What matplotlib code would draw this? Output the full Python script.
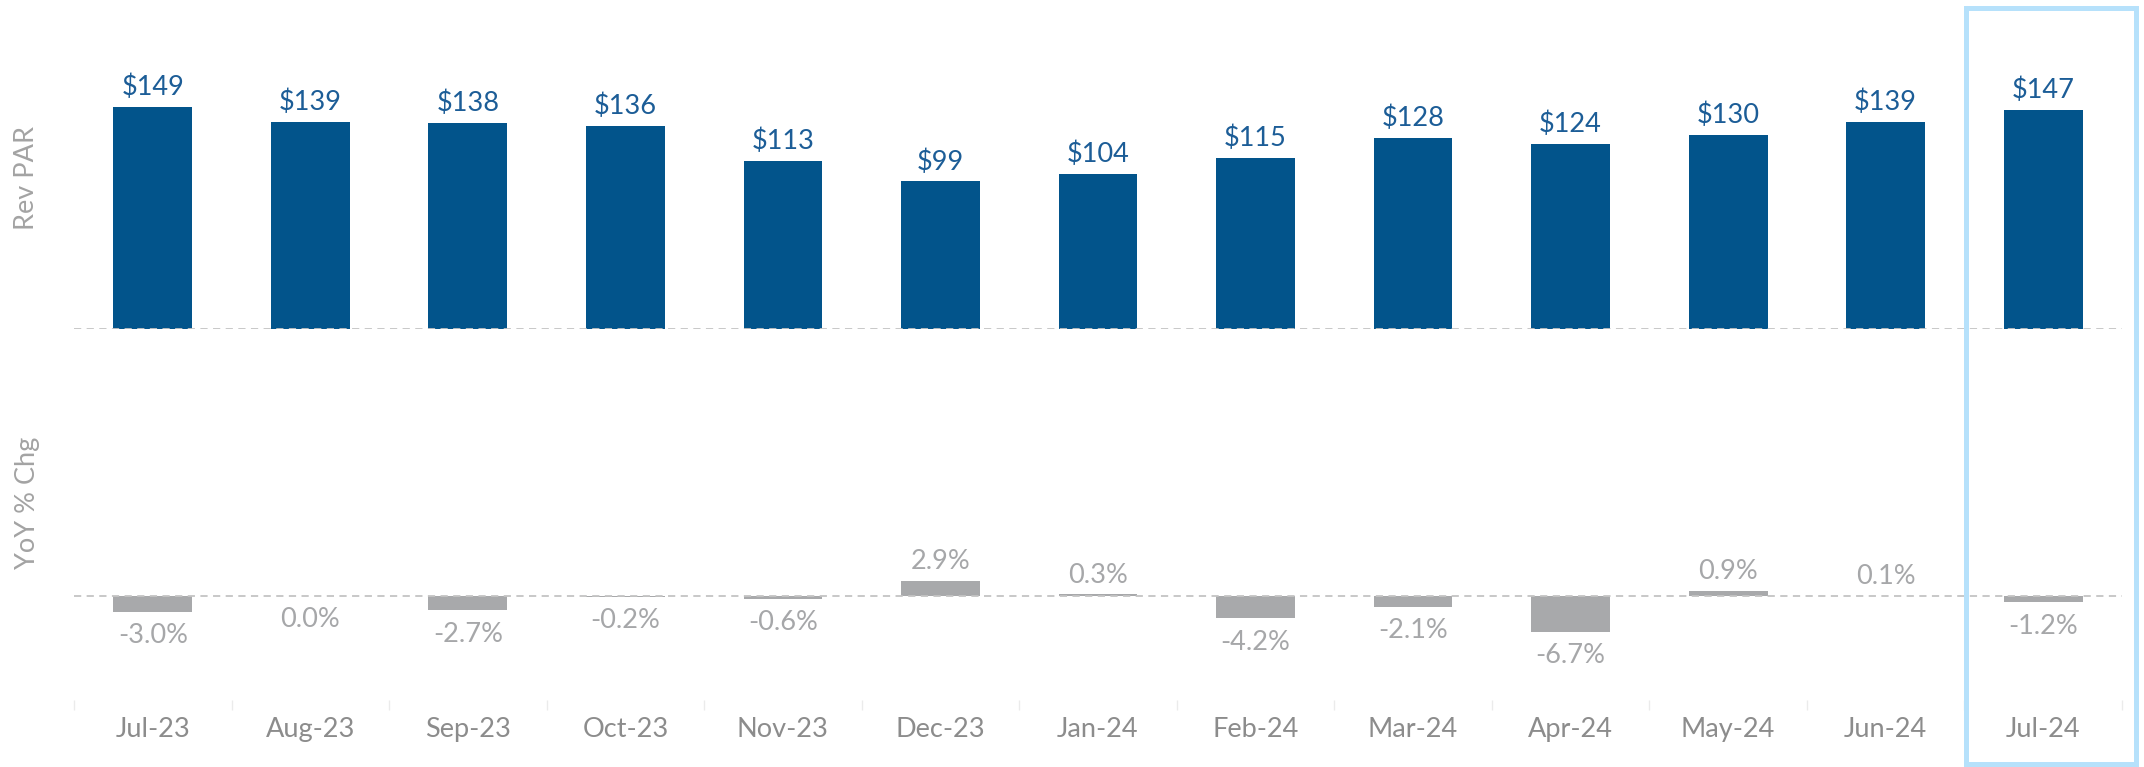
import matplotlib
matplotlib.use("Agg")
import matplotlib.pyplot as plt
from matplotlib.patches import Rectangle

# datos del grafico
meses = ["Jul-23", "Aug-23", "Sep-23", "Oct-23", "Nov-23", "Dec-23", "Jan-24",
         "Feb-24", "Mar-24", "Apr-24", "May-24", "Jun-24", "Jul-24"]
revpar = [149, 139, 138, 136, 113, 99, 104, 115, 128, 124, 130, 139, 147]
yoy = [-3.0, 0.0, -2.7, -0.2, -0.6, 2.9, 0.3, -4.2, -2.1, -6.7, 0.9, 0.1, -1.2]

plt.rcParams['font.family'] = ['Lato', 'DejaVu Sans']

W, H = 2144, 767
fig = plt.figure(figsize=(W / 100, H / 100), dpi=100)

azul = "#02548b"
azul_txt = "#1c5d97"
gris_barra = "#a8a9ab"
gris_txt = "#a6a7a9"
gris_eje = "#8c8c8c"
fs = 19.5

x = list(range(len(meses)))

def px_axes(x0, y0, x1, y1):
    # convierte pixeles (origen arriba-izquierda) a coordenadas de figura
    return fig.add_axes([x0 / W, 1 - y1 / H, (x1 - x0) / W, (y1 - y0) / H])

# panel superior: Rev PAR
ax1 = px_axes(74, 31, 2122, 329)
ax1.bar(x, revpar, width=0.5, color=azul, zorder=1)
ax1.set_xlim(-0.5, 12.5)
ax1.set_ylim(0, 200)
ax1.axhline(0, color="#c4c4c4", lw=1.3, ls=(0, (4, 3)), zorder=2)
for xi, v in zip(x, revpar):
    ax1.annotate(f"${v}", (xi, v), xytext=(0, 5), textcoords="offset points",
                 ha="center", va="bottom", fontsize=fs, color=azul_txt)
ax1.axis("off")

# panel inferior: variacion interanual
ax2 = px_axes(74, 400, 2122, 700)
ax2.bar(x, yoy, width=0.5, color=gris_barra, zorder=1)
ax2.set_xlim(-0.5, 12.5)
ax2.set_ylim(-19.5, 36.8)
ax2.axhline(0, color="#c4c4c4", lw=1.3, ls=(0, (4, 3)), zorder=2)
for xi, v in zip(x, yoy):
    if v > 0:
        ax2.annotate(f"{v:.1f}%", (xi, v), xytext=(0, 5), textcoords="offset points",
                     ha="center", va="bottom", fontsize=fs, color=gris_txt)
    else:
        ax2.annotate(f"{v:.1f}%", (xi, v), xytext=(0, -8), textcoords="offset points",
                     ha="center", va="top", fontsize=fs, color=gris_txt)
for s in ax2.spines.values():
    s.set_visible(False)
ax2.set_yticks([])
ax2.set_xticks(x)
ax2.set_xticklabels(meses, fontsize=fs, color=gris_eje)
ax2.set_xticks([i - 0.5 for i in range(len(meses) + 1)], minor=True)
ax2.tick_params(axis="x", which="major", length=0, pad=12)
ax2.tick_params(axis="x", which="minor", length=7, width=1, color="#ebebeb")

# etiquetas de los ejes
fig.text(27 / W, 1 - 178 / H, "Rev PAR", rotation=90, ha="center", va="center",
         fontsize=fs, color="#a3a3a3")
fig.text(27 / W, 1 - 503 / H, "YoY % Chg", rotation=90, ha="center", va="center",
         fontsize=fs, color="#a3a3a3")

# recuadro del ultimo mes
fig.patches.append(Rectangle((1966 / W, 1 - 764 / H), (2136 - 1966) / W, (764 - 8) / H,
                             transform=fig.transFigure, fill=False,
                             edgecolor="#b6e1fb", lw=3.6))

fig.savefig("out.png", dpi=100)
